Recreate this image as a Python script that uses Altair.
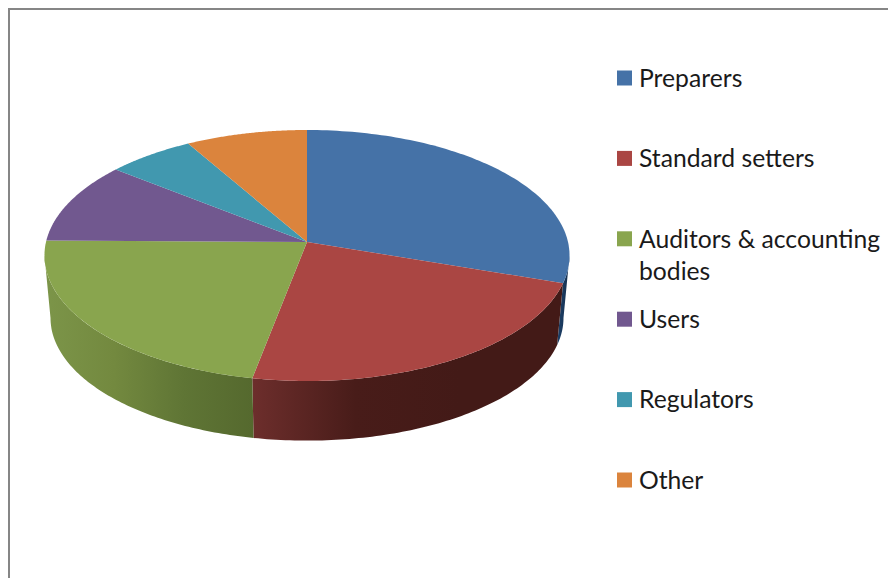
import altair as alt
import numpy as np
import pandas as pd

categories = ["Preparers", "Standard setters", "Auditors & accounting\nbodies", "Users", "Regulators", "Other"]
shares = [30.2, 22.8, 22.2, 10.5, 6.0, 8.3]
top_colors = ["#4572A7", "#AA4643", "#89A54E", "#71588F", "#4198AF", "#DB843D"]
side_stops = {
    0: ["#1d4068", "#16304f"],
    1: ["#6d2e2c", "#481c19", "#431a17", "#431a17"],
    2: ["#7c9549", "#73893f", "#5f7535", "#55692e"],
}

# Perspective of the pie's tilted disc
CX, CY, KX, KY, K = 307.0, 242.0, 261.0, 124.05, -0.1076
SHRINK, DROP, RIM_CY = 0.977, 62.5, 255.5


def rim(theta):
    X, Y = np.sin(theta), -np.cos(theta)
    d = 1 + K * Y
    return CX + KX * X / d, CY + KY * Y / d


def lower(x, y):
    return CX + (x - CX) * SHRINK, RIM_CY + DROP + (y - RIM_CY) * SHRINK


x_scale = alt.Scale(domain=[8, 888], range=[0, 880], nice=False, zero=False)
y_scale = alt.Scale(domain=[8, 578], range=[0, 570], nice=False, zero=False)


def poly(xs, ys, fill):
    df = pd.DataFrame({"px": xs, "py": ys, "i": range(len(xs))})
    return alt.Chart(df).mark_line(fill=fill, stroke=None, strokeWidth=0, clip=False).encode(
        x=alt.X("px:Q", scale=x_scale, axis=None),
        y=alt.Y("py:Q", scale=y_scale, axis=None),
        order="i:Q",
    )


edges = np.cumsum([0.0] + shares) / sum(shares) * 2 * np.pi
right_sil = np.arccos(K)          # silhouette of the disc on the right
left_sil = 2 * np.pi - right_sil  # and on the left

layers = []

# Side walls
for idx, stops in side_stops.items():
    a, b = max(edges[idx], right_sil), min(edges[idx + 1], left_sil)
    t = np.linspace(a, b, 90)
    xt, yt = rim(t)
    xb, yb = lower(xt, yt)
    xs = np.concatenate([xt, xb[::-1], xt[:1]])
    ys = np.concatenate([yt, yb[::-1], yt[:1]])
    n = len(stops)
    grad = alt.Gradient(
        gradient="linear", x1=0, x2=1, y1=0, y2=0,
        stops=[alt.GradientStop(color=c, offset=j / (n - 1)) for j, c in enumerate(stops)],
    )
    layers.append(poly(xs, ys, grad))

# Top faces
for idx, color in enumerate(top_colors):
    t = np.linspace(edges[idx], edges[idx + 1], 90)
    xt, yt = rim(t)
    xs = np.concatenate([[CX], xt, [CX]])
    ys = np.concatenate([[CY], yt, [CY]])
    layers.append(poly(xs, ys, color))

# Legend
rows = np.arange(len(categories))
legend = pd.DataFrame({
    "label": categories,
    "color": top_colors,
    "sx": 624.5,
    "sy": 78 + 80.4 * rows,
    "tx": 639.0,
    "ty": 86.7 + 80.4 * rows,
})
layers.append(
    alt.Chart(legend).mark_point(shape="square", filled=True, size=225, opacity=1).encode(
        x=alt.X("sx:Q", scale=x_scale, axis=None),
        y=alt.Y("sy:Q", scale=y_scale, axis=None),
        color=alt.Color("color:N", scale=None, legend=None),
    )
)
layers.append(
    alt.Chart(legend).mark_text(
        align="left", baseline="alphabetic", font="Lato", fontSize=24.7,
        color="#1a1a1a", lineBreak="\n", lineHeight=32,
    ).encode(
        x=alt.X("tx:Q", scale=x_scale, axis=None),
        y=alt.Y("ty:Q", scale=y_scale, axis=None),
        text="label:N",
    )
)

# Chart frame
frame_top = alt.Chart(pd.DataFrame({"a": [8.0], "b": [888.0], "c": [9.0]})).mark_rule(
    color="#868686", strokeWidth=2).encode(
    x=alt.X("a:Q", scale=x_scale, axis=None), x2="b:Q",
    y=alt.Y("c:Q", scale=y_scale, axis=None))
frame_left = alt.Chart(pd.DataFrame({"a": [9.0], "b": [8.0], "c": [578.0]})).mark_rule(
    color="#868686", strokeWidth=2).encode(
    x=alt.X("a:Q", scale=x_scale, axis=None),
    y=alt.Y("b:Q", scale=y_scale, axis=None), y2="c:Q")
layers += [frame_top, frame_left]

chart = alt.layer(*layers).properties(
    width=880, height=570, padding=0,
    autosize=alt.AutoSizeParams(type="none", contains="padding"),
    view=alt.ViewConfig(stroke=None),
    background="white",
)
chart.save("out.html", embed_options={"renderer": "svg", "actions": False})
